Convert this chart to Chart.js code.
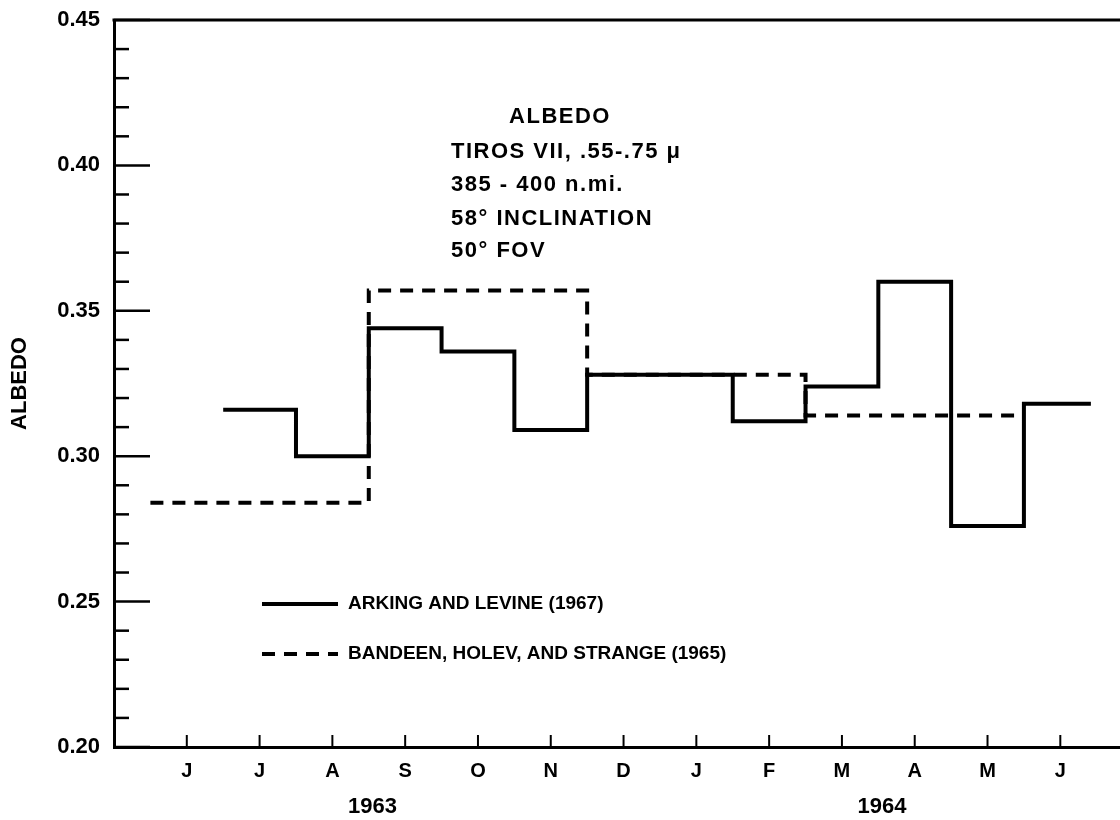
<!DOCTYPE html>
<html>
<head>
<meta charset="utf-8">
<script src="https://cdn.jsdelivr.net/npm/chart.js@4"></script>
<style>
  body { margin: 0; background: #fff; }
  #wrap { width: 1120px; height: 820px; position: relative; }
</style>
</head>
<body>
<div id="wrap"><canvas id="albedo"></canvas></div>
<script>
const canvas = document.getElementById("albedo")

// month labels, June 1963 .. June 1964 (index 0 = June 1963)
const months = ["J", "J", "A", "S", "O", "N", "D", "J", "F", "M", "A", "M", "J"];

// Arking and Levine (1967), monthly values
const arkingValues = [null, 0.316, 0.300, 0.344, 0.336, 0.309, 0.328, 0.328, 0.312, 0.324, 0.360, 0.276, 0.318];
const arkingLastEdge = 12.42;

// Bandeen, Holev and Strange (1965), seasonal values
const bandeenValues = [0.284, 0.284, 0.284, 0.357, 0.357, 0.357, 0.328, 0.328, 0.328, 0.314, 0.314, 0.314, null];

const years = ["1963", "1964"];
const yearPositions = [2.55, 9.55];

const seriesNames = ["ARKING AND LEVINE (1967)", "BANDEEN, HOLEV, AND STRANGE (1965)"];

const noteLines = ["ALBEDO", "TIROS VII, .55-.75 \u03bc", "385 - 400 n.mi.", "58\u00b0 INCLINATION", "50\u00b0 FOV"];

// turn month values into a stepped outline (one flat piece per month)
const stepPoints = (values, lastEdge) => {
  const pts = [];
  const lastIdx = values.map((v, i) => v === null ? -1 : i).reduce((a, b) => Math.max(a, b));
  values.forEach((v, i) => {
    if (v === null) return;
    const right = (i === lastIdx && lastEdge) ? lastEdge : i + 0.5;
    pts.push({ x: i - 0.5, y: v }, { x: right, y: v });
  });
  return pts;
};

const FONT = "'Liberation Sans', Arial, Helvetica, sans-serif";

// ticks inside the frame, top line, years, note and legend
const marksPlugin = {
  id: "marks",
  afterDraw(chart) {
    const ctx = chart.ctx;
    const { left, right, top, bottom } = chart.chartArea;
    const xs = chart.scales.x;
    const ys = chart.scales.y;
    ctx.save();
    ctx.strokeStyle = "#000";
    ctx.fillStyle = "#000";

    // top frame line
    ctx.lineWidth = 3;
    ctx.beginPath();
    ctx.moveTo(left - 1.5, top);
    ctx.lineTo(right, top);
    ctx.stroke();

    // y tick marks pointing inwards
    ys.ticks.forEach(t => {
      const r = Math.round(t.value * 100);
      const len = r % 5 === 0 ? 36 : 15;
      const y = ys.getPixelForValue(t.value);
      ctx.lineWidth = 2.5;
      ctx.beginPath();
      ctx.moveTo(left, y);
      ctx.lineTo(left + len, y);
      ctx.stroke();
    });

    // x tick marks at month centres
    months.forEach((m, i) => {
      const x = xs.getPixelForValue(i);
      ctx.lineWidth = 2;
      ctx.beginPath();
      ctx.moveTo(x, bottom);
      ctx.lineTo(x, bottom - 12);
      ctx.stroke();
    });

    // year labels
    ctx.font = "bold 22px " + FONT;
    ctx.textAlign = "center";
    ctx.textBaseline = "middle";
    years.forEach((yr, i) => {
      ctx.fillText(yr, xs.getPixelForValue(yearPositions[i]), bottom + 60);
    });

    // note block
    ctx.font = "bold 22px " + FONT;
    ctx.letterSpacing = "1.5px";
    ctx.textAlign = "center";
    ctx.fillText(noteLines[0], 560, 117);
    ctx.textAlign = "left";
    const noteY = [152, 185, 219, 251];
    noteLines.slice(1).forEach((line, i) => ctx.fillText(line, 451, noteY[i]));
    ctx.letterSpacing = "0px";

    // legend
    const legendY = [604, 654];
    chart.data.datasets.forEach((ds, i) => {
      ctx.lineWidth = ds.borderWidth;
      ctx.setLineDash(ds.borderDash || []);
      ctx.beginPath();
      ctx.moveTo(262, legendY[i]);
      ctx.lineTo(338, legendY[i]);
      ctx.stroke();
      ctx.setLineDash([]);
      ctx.font = "bold 19px " + FONT;
      ctx.textAlign = "left";
      ctx.fillText(seriesNames[i], 348, legendY[i]);
    });
    ctx.restore();
  }
};

const chartConfig = {
  type: "line",
  plugins: [marksPlugin],
  data: {
    datasets: [
      {
        label: seriesNames[0],
        data: stepPoints(arkingValues, arkingLastEdge),
        borderColor: "#000",
        borderWidth: 4,
        pointRadius: 0,
        tension: 0,
        borderJoinStyle: "miter"
      },
      {
        label: seriesNames[1],
        data: stepPoints(bandeenValues),
        borderColor: "#000",
        borderWidth: 4,
        borderDash: [13, 9],
        pointRadius: 0,
        tension: 0
      }
    ]
  },
  options: {
    responsive: true,
    maintainAspectRatio: false,
    animation: false,
    layout: { padding: { top: 20, right: 0, left: 0, bottom: 0 } },
    plugins: {
      legend: { display: false },
      tooltip: { enabled: false }
    },
    scales: {
      x: {
        type: "linear",
        min: -1,
        max: 12.82,
        grid: { display: false, drawTicks: false },
        border: { display: true, color: "#000", width: 3 },
        ticks: {
          autoSkip: false,
          maxRotation: 0,
          padding: 12,
          color: "#000",
          font: { family: FONT, size: 20, weight: "bold" },
          callback: (v) => months[Math.round(v)] || ""
        },
        // one tick per month
        afterBuildTicks: (scale) => { scale.ticks = months.map((m, i) => ({ value: i })); },
        afterFit: (scale) => {
          scale.height = 73;
          scale.paddingLeft = 0;
          scale.paddingRight = 0;
        }
      },
      y: {
        min: 0.20,
        max: 0.45,
        grid: { display: false, drawTicks: false },
        border: { display: true, color: "#000", width: 3 },
        ticks: {
          stepSize: 0.01,
          autoSkip: false,
          padding: 14,
          color: "#000",
          font: { family: FONT, size: 22, weight: "bold" },
          callback: (v) => {
            const r = Math.round(v * 100);
            return r % 5 === 0 ? (r / 100).toFixed(2) : "";
          }
        },
        title: {
          display: true,
          text: "ALBEDO",
          color: "#000",
          padding: { top: 7, bottom: 0 },
          font: { family: FONT, size: 22, weight: "bold" }
        },
        afterFit: (scale) => {
          scale.width = 114;
          scale.paddingTop = 0;
          scale.paddingBottom = 0;
        }
      }
    }
  }
};

let albedoChart = new Chart(canvas, chartConfig)
</script>
</body>
</html>
